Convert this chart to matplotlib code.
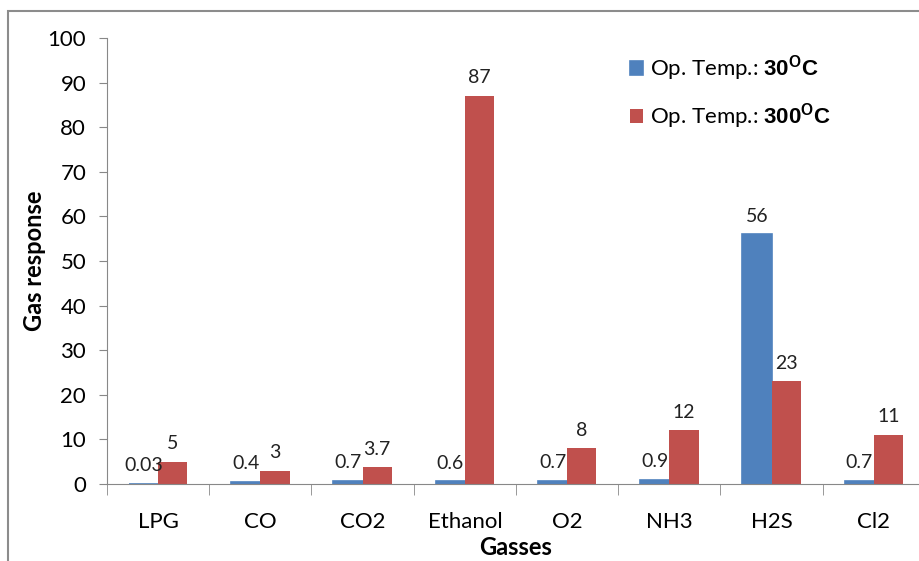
import matplotlib.pyplot as plt
import numpy as np
from matplotlib.patches import Rectangle

plt.rcParams['font.family'] = ['Lato', 'DejaVu Sans']
plt.rcParams['mathtext.fontset'] = 'custom'
plt.rcParams['mathtext.bf'] = 'Liberation Sans:bold'
plt.rcParams['mathtext.rm'] = 'Liberation Sans'

gases = ['LPG', 'CO', 'CO2', 'Ethanol', 'O2', 'NH3', 'H2S', 'Cl2']
resp_30 = [0.03, 0.4, 0.7, 0.6, 0.7, 0.9, 56, 0.7]
resp_300 = [5, 3, 3.7, 87, 8, 12, 23, 11]
labels_30 = ['0.03', '0.4', '0.7', '0.6', '0.7', '0.9', '56', '0.7']
labels_300 = ['5', '3', '3.7', '87', '8', '12', '23', '11']

blue = '#4F81BD'
red = '#C0504D'
grey = '#888888'

fig = plt.figure(figsize=(9.2, 5.61), dpi=100)
# outer chart frame
fig.patches.append(Rectangle((8 / 920, -0.1), 1.1, 1 - 11 / 561 + 0.1,
                             transform=fig.transFigure, fill=False,
                             edgecolor='#8c8c8c', linewidth=1.5))

ax = fig.add_axes([107 / 920, 1 - 484 / 561, 818 / 920, 446 / 561])

x = np.arange(len(gases))
w = 0.285
b1 = ax.bar(x - w / 2, resp_30, w, color=blue, edgecolor=blue, linewidth=1.2,
            label='Op. Temp.: $\\mathbf{30^{O}C}$')
b2 = ax.bar(x + w / 2, resp_300, w, color=red, label='Op. Temp.: $\\mathbf{300^{O}C}$')

for bars, labs in ((b1, labels_30), (b2, labels_300)):
    for bar, lab in zip(bars, labs):
        ax.annotate(lab, (bar.get_x() + bar.get_width() / 2, bar.get_height()),
                    xytext=(0, 7), textcoords='offset points',
                    ha='center', va='bottom', fontsize=14, color='#222222')

ax.set_xlim(-0.5, len(gases) - 0.5)
ax.set_ylim(0, 100)
ax.set_yticks(range(0, 101, 10))
ax.set_xticks(x)
ax.set_xticklabels(gases)
ax.set_xticks(np.arange(-0.5, len(gases)), minor=True)
ax.tick_params(axis='x', which='major', length=0, pad=20, labelsize=16)
ax.tick_params(axis='x', which='minor', length=8, color=grey, direction='out')
ax.tick_params(axis='y', length=6, color=grey, labelsize=16, pad=9)

for s in ('top', 'right'):
    ax.spines[s].set_visible(False)
for s in ('left', 'bottom'):
    ax.spines[s].set_color(grey)

ax.set_ylabel('Gas response', fontsize=17, fontweight='bold', labelpad=1)
ax.set_xlabel('Gasses', fontsize=17, fontweight='bold', labelpad=3)

ax.legend(loc='upper left', bbox_to_anchor=(0.615, 1.01), frameon=False,
          fontsize=16, handlelength=0.6, handleheight=0.6, handletextpad=0.3,
          labelspacing=0.8)

fig.savefig('out.png', dpi=100)
